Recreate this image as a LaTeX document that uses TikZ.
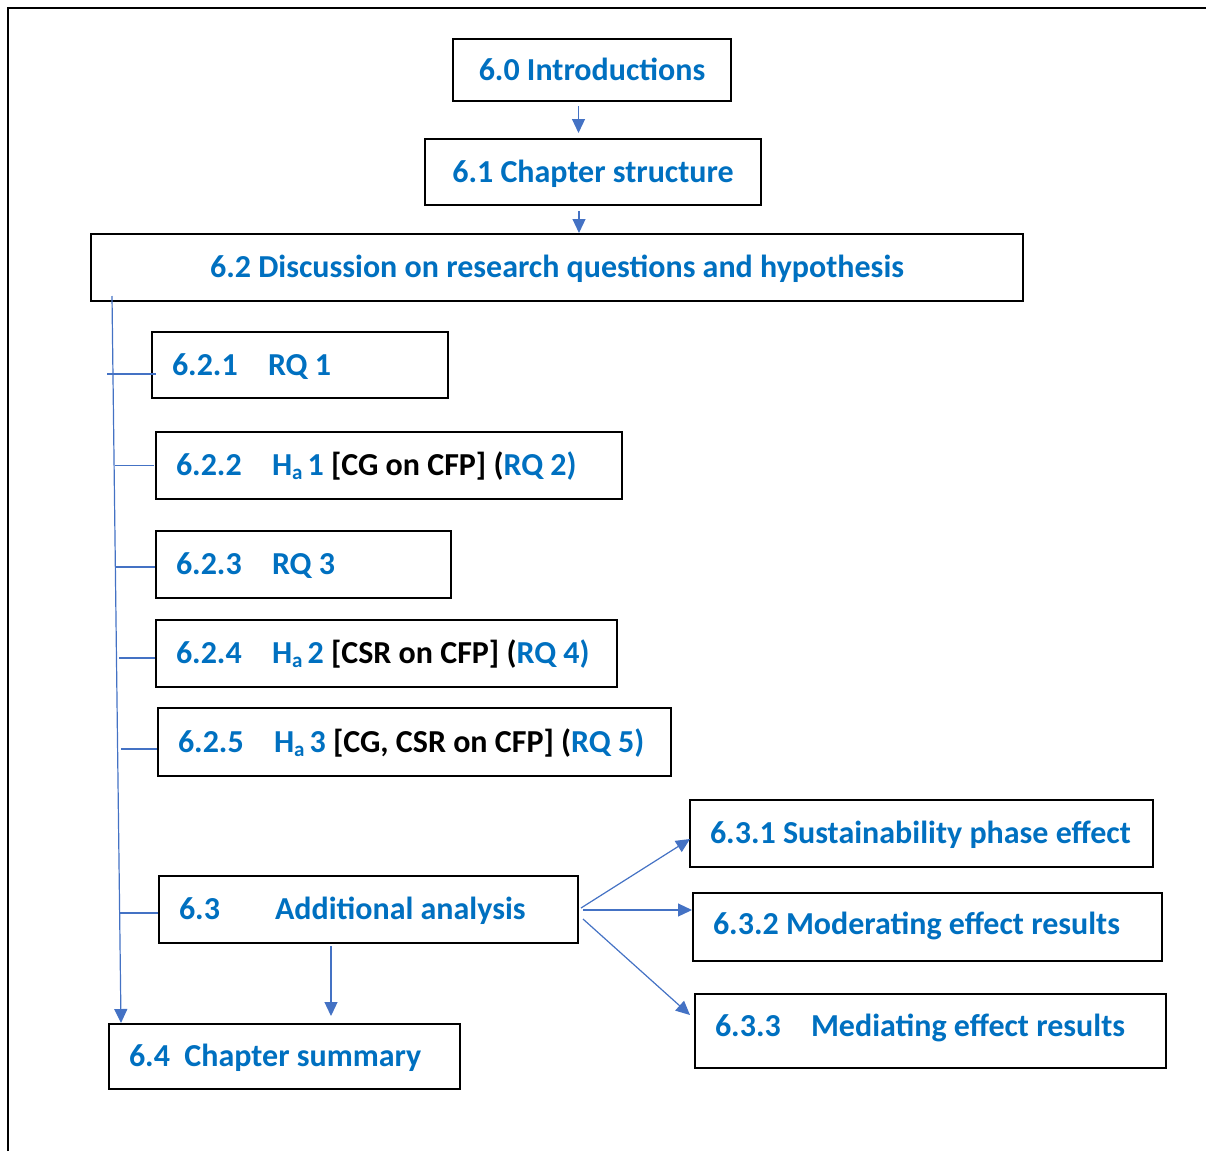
\documentclass[tikz,border=0pt]{standalone}
\usepackage{fontspec}
\setmainfont{Carlito}
\usetikzlibrary{arrows.meta,calc}
\definecolor{headblue}{HTML}{0070C0}
\definecolor{linkblue}{HTML}{4472C4}
% subscript "a" of the alternative hypotheses
\newcommand{\hyp}[1]{H\raisebox{-4pt}{\fontsize{21}{21}\selectfont a}\hspace{5pt}#1}
\newcommand{\num}[1]{\makebox[96pt][l]{#1}}
% left-aligned text of a fixed width (box width minus both paddings)
\newcommand{\lrow}[2]{\makebox[#1][l]{#2}}
\begin{document}
\begin{tikzpicture}[x=1pt,y=-1pt,
  box/.style={draw=black, line width=2pt, text=headblue,
    font=\fontsize{32}{38}\selectfont\bfseries,
    text height=20.6pt, text depth=0pt, inner ysep=0pt, inner xsep=0pt},
  cbox/.style={box, minimum width=#1},
  lbox/.style={box, inner xsep=20pt},
  link/.style={draw=linkblue, line width=1.2pt},
  arr/.style={link, -{Triangle[length=14pt,width=13pt]}}]
\useasboundingbox (0,0) rectangle (1206,1151);

% page frame
\draw[line width=2.5pt] (8,1151) -- (8,8) -- (1206,8);

% chapter sections
\node[cbox=278pt, minimum height=62pt] (intro)  at (592,70)    {6.0 Introductions};
\node[cbox=336pt, minimum height=66pt] (struct) at (593,172)   {6.1 Chapter structure};
\node[cbox=932pt, minimum height=67pt] (disc)   at (557,267.5) {6.2 Discussion on research questions and hypothesis};

\node[lbox, minimum height=66pt] (rq1) at (300,365)   {\lrow{256pt}{\num{6.2.1}RQ 1}};
\node[lbox, minimum height=67pt] (h1)  at (389,465.5) {\lrow{426pt}{\num{6.2.2}\hyp{1} \textcolor{black}{[CG on CFP] (}RQ 2)}};
\node[lbox, minimum height=67pt] (rq3) at (303.5,564.5) {\lrow{255pt}{\num{6.2.3}RQ 3}};
\node[lbox, minimum height=67pt] (h2)  at (386.5,653.5) {\lrow{421pt}{\num{6.2.4}\hyp{2} \textcolor{black}{[CSR on CFP] (}RQ 4)}};
\node[lbox, minimum height=68pt] (h3)  at (414.5,742) {\lrow{473pt}{\num{6.2.5}\hyp{3} \textcolor{black}{[CG, CSR on CFP] (}RQ 5)}};

\node[lbox, minimum height=67pt] (add) at (368.5,909.5) {\lrow{379pt}{\num{6.3}Additional analysis}};
\node[lbox, minimum height=65pt] (sum) at (284.5,1056.5) {\lrow{311pt}{6.4\ \ Chapter summary}};

\node[lbox, minimum height=67pt] (s1) at (921.5,833.5) {\lrow{423pt}{6.3.1 Sustainability phase effect}};
\node[lbox, minimum height=68pt, text depth=5pt] (s2) at (927.5,927) {\lrow{429pt}{6.3.2 Moderating effect results}};
\node[lbox, minimum height=74pt, text depth=10pt] (s3) at (930.5,1031) {\lrow{431pt}{\num{6.3.3}Mediating effect results}};

% main sequence
\draw[arr] ($(intro.south)+(-13.5,4)$) -- ($(struct.north)+(-14.5,-5)$);
\draw[arr] ($(struct.south)+(-14,5)$) -- ($(disc.north)+(22,0)$);

% trunk from 6.2 down to the summary
\coordinate (trunktop) at (112,296);
\draw[arr] (trunktop) -- ($(sum.north west)+(13,0)$);

% branches to the subsections
\draw[link] ($(rq1.west)+(-44,9)$) -- ($(rq1.west)+(5,9)$);
\draw[link] ($(h1.west)+(-40,0)$) -- ($(h1.west)+(-1,0)$);
\draw[link] ($(rq3.west)+(-39,2.5)$) -- ($(rq3.west)+(0,2.5)$);
\draw[link] ($(h2.west)+(-36,4.5)$) -- ($(h2.west)+(0,4.5)$);
\draw[link] ($(h3.west)+(-36,7)$) -- ($(h3.west)+(0,7)$);
\draw[link] ($(add.west)+(-38.5,3.5)$) -- ($(add.west)+(0,3.5)$);

% additional analysis
\draw[arr] ($(add.south)+(-37.5,2)$) -- ($(sum.north)+(46.5,-7)$);
\draw[arr] ($(add.east)+(2,-1.5)$) -- ($(s1.west)+(1,5.5)$);
\draw[arr] ($(add.east)+(4,0.5)$) -- ($(s2.west)+(0,-17)$);
\draw[arr] ($(add.east)+(4,9.5)$) -- ($(s3.west)+(-4,-16)$);
\end{tikzpicture}
\end{document}
